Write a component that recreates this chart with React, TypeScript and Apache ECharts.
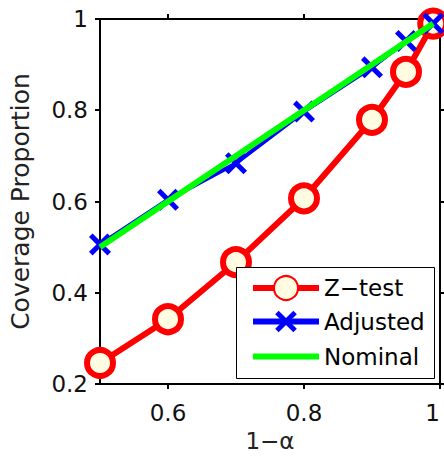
import React, { useEffect, useRef } from "react";
import * as echarts from "echarts";

const xValues = [0.5, 0.6, 0.7, 0.8, 0.9, 0.95, 0.99];
const zTest = [0.246, 0.342, 0.467, 0.607, 0.779, 0.884, 0.99];
const adjusted = [0.506, 0.604, 0.684, 0.797, 0.894, 0.952, 0.99];
const nominal = [0.5, 0.6, 0.7, 0.8, 0.9, 0.95, 0.99];
const xTicks = [0.6, 0.8, 1];
const seriesNames = ["Z\u2212test", "Adjusted", "Nominal"];

const FONT = "DejaVu Sans";
const X_PATH =
  "path://M0,16L16,0L50,34L84,0L100,16L66,50L100,84L84,100L50,66L16,100L0,84L34,50Z";

const fmt = (v: number) => String(+Number(v).toFixed(2));

export default function App() {
  const ref = useRef<HTMLDivElement>(null);
  useEffect(() => {
    if (!ref.current) return;
    const chart = echarts.init(ref.current, null, { renderer: "svg" });
    const pair = (ys: number[]) => xValues.map((x, i) => [x, ys[i]]);
    const axisLine = { show: true, lineStyle: { color: "#000", width: 2 } };
    const axisTick = { show: true, inside: false, length: 5, lineStyle: { color: "#000", width: 2 } };
    const labelStyle = { color: "#111", fontSize: 23, fontFamily: FONT };
    const legendBase = {
      orient: "vertical",
      left: 250,
      padding: 0,
      itemWidth: 66,
      selectedMode: false,
      textStyle: { color: "#000", fontSize: 23, fontFamily: FONT },
      z: 6,
    };
    chart.setOption({
      animation: false,
      backgroundColor: "#fff",
      grid: {
        left: 100,
        top: 19,
        width: 340,
        height: 365,
        containLabel: false,
        outerBoundsMode: "none",
      },
      xAxis: [
        {
          type: "value",
          min: 0.5,
          max: 1,
          position: "bottom",
          axisLine,
          axisTick: { ...axisTick, customValues: xTicks },
          axisLabel: {
            ...labelStyle,
            margin: 17,
            customValues: xTicks,
            formatter: fmt,
            alignMaxLabel: "right",
          },
          splitLine: { show: false },
          name: "1\u2212\u03b1",
          nameLocation: "middle",
          nameGap: 46,
          nameTextStyle: { color: "#222", fontSize: 23, lineHeight: 22, fontFamily: FONT },
        },
        {
          type: "value",
          min: 0.5,
          max: 1,
          position: "top",
          axisLine,
          axisTick: { ...axisTick, customValues: xTicks },
          axisLabel: { show: false },
          splitLine: { show: false },
        },
      ],
      yAxis: [
        {
          type: "value",
          min: 0.2,
          max: 1,
          interval: 0.2,
          position: "left",
          axisLine,
          axisTick,
          axisLabel: { ...labelStyle, margin: 12, formatter: fmt },
          splitLine: { show: false },
          name: "Coverage Proportion",
          nameLocation: "middle",
          nameGap: 67,
          nameTextStyle: { color: "#222", fontSize: 25, fontFamily: FONT },
        },
        {
          type: "value",
          min: 0.2,
          max: 1,
          interval: 0.2,
          position: "right",
          axisLine,
          axisTick,
          axisLabel: { show: false },
          splitLine: { show: false },
        },
      ],
      legend: [
        {
          ...legendBase,
          top: 275,
          itemHeight: 30,
          lineStyle: { color: "#ff0000", width: 6 },
          data: [seriesNames[0]],
        },
        {
          ...legendBase,
          top: 310,
          itemHeight: 27,
          lineStyle: { color: "#0000ff", width: 6 },
          data: [seriesNames[1]],
        },
        {
          ...legendBase,
          top: 345,
          itemHeight: 24,
          lineStyle: { color: "#00ff00", width: 6 },
          itemStyle: { opacity: 0 },
          data: [seriesNames[2]],
        },
      ],
      graphic: [
        {
          type: "rect",
          z: 5,
          shape: { x: 236.5, y: 267.5, width: 198, height: 111 },
          style: { fill: "#fff", stroke: "#000", lineWidth: 1 },
        },
      ],
      series: [
        {
          name: seriesNames[0],
          type: "line",
          data: pair(zTest),
          clip: false,
          z: 2,
          symbol: "circle",
          symbolSize: 26,
          showAllSymbol: true,
          lineStyle: { color: "#ff0000", width: 6 },
          itemStyle: { color: "#fffce2", borderColor: "#ff0000", borderWidth: 6 },
        },
        {
          name: seriesNames[1],
          type: "line",
          data: pair(adjusted),
          clip: false,
          z: 3,
          symbol: X_PATH,
          symbolSize: 22,
          showAllSymbol: true,
          lineStyle: { color: "#0000ff", width: 4 },
          itemStyle: { color: "#0000ff", borderWidth: 0 },
        },
        {
          name: seriesNames[2],
          type: "line",
          data: pair(nominal),
          clip: false,
          z: 4,
          symbol: "none",
          lineStyle: { color: "#00ff00", width: 6 },
          itemStyle: { color: "#00ff00" },
        },
      ],
    });
    return () => chart.dispose();
  }, []);
  return (
    <div
      ref={ref}
      style={{ position: "fixed", left: 0, top: 0, width: 444, height: 456 }}
    />
  );
}
